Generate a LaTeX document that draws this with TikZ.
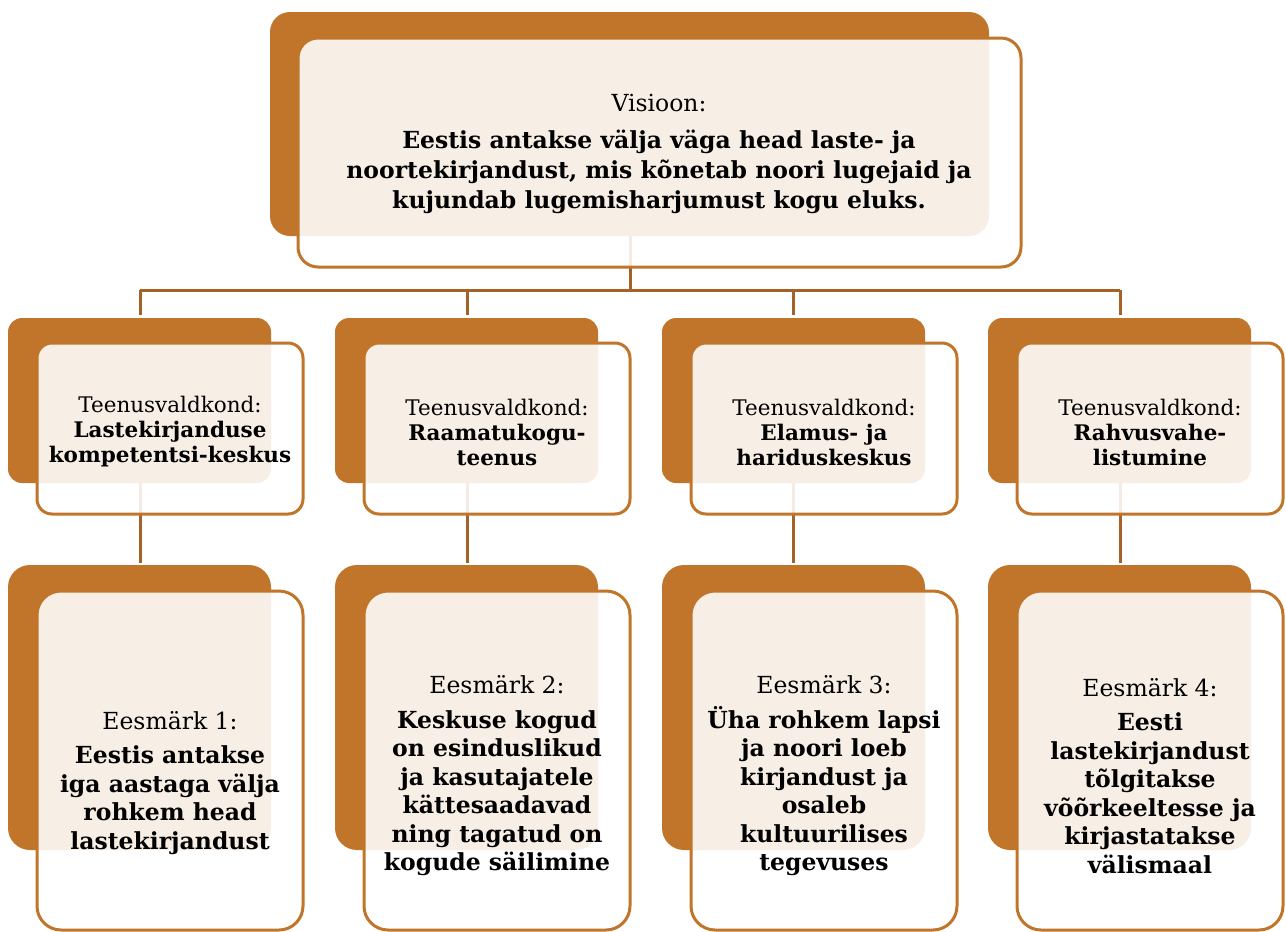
\documentclass[tikz,border=0pt]{standalone}
\usepackage{fontspec}
\setmainfont{DejaVu Serif}
\definecolor{ora}{RGB}{192,117,42}
\definecolor{con}{RGB}{165,98,38}
\begin{document}
\begin{tikzpicture}[x=1pt,y=-1pt,
  backbox/.style={fill=ora,draw=none,rounded corners=20pt,inner sep=0pt,outer sep=0pt,anchor=north west},
  frontbox/.style={fill=white,fill opacity=0.88,draw=ora,line width=3pt,rounded corners=20pt,inner sep=0pt,outer sep=0pt,anchor=north west},
  sback/.style={backbox,minimum width=263pt,minimum height=165pt,rounded corners=14pt},
  sfront/.style={frontbox,minimum width=266pt,minimum height=171pt,rounded corners=15pt},
  gback/.style={backbox,minimum width=263pt,minimum height=285pt,rounded corners=22pt},
  gfront/.style={frontbox,minimum width=266pt,minimum height=339pt,rounded corners=24pt},
  label/.style={align=center,text=black,inner sep=0pt},
  slabel/.style={label,font=\fontsize{21.5}{25}\selectfont},
  glabel/.style={label,font=\fontsize{23.5}{28.5}\selectfont},
  conn/.style={draw=con,line width=3pt}]
\useasboundingbox (0,0) rectangle (1286,932);
% connectors (behind)
\coordinate (topc) at (630,236);
\coordinate (bus0) at (630,290);
\coordinate (a1) at (140,290);
\coordinate (a2) at (467,290);
\coordinate (a3) at (793,290);
\coordinate (a4) at (1120,290);
\coordinate (s1) at (140,315);
\coordinate (s2) at (467,315);
\coordinate (s3) at (793,315);
\coordinate (s4) at (1120,315);
\coordinate (b1) at (140,483);
\coordinate (b2) at (467,483);
\coordinate (b3) at (793,483);
\coordinate (b4) at (1120,483);
\coordinate (c1) at (140,563);
\coordinate (c2) at (467,563);
\coordinate (c3) at (793,563);
\coordinate (c4) at (1120,563);
\draw[conn] (topc) -- (bus0);
\draw[conn] (a1) -- (a4);
\draw[conn] (a1) -- (s1);
\draw[conn] (a2) -- (s2);
\draw[conn] (a3) -- (s3);
\draw[conn] (a4) -- (s4);
\draw[conn] (b1) -- (c1);
\draw[conn] (b2) -- (c2);
\draw[conn] (b3) -- (c3);
\draw[conn] (b4) -- (c4);
% top box
\node[backbox,minimum width=719pt,minimum height=224pt] (vb) at (270,12) {};
\node[frontbox,minimum width=723pt,minimum height=229pt] (vf) at (298,38) {};
\node[label,font=\fontsize{23.5}{30}\selectfont] (vt) at (659,154) {Visioon:\\[7pt]
\textbf{Eestis antakse välja väga head laste- ja}\\
\textbf{noortekirjandust, mis kõnetab noori lugejaid ja}\\
\textbf{kujundab lugemisharjumust kogu eluks.}};
% tier 2
\node[sback] (sb1) at (8,318) {};
\node[sfront] (sf1) at (37,343) {};
\node[slabel] (st1) at (170,432) {Teenusvaldkond:\\\textbf{Lastekirjanduse}\\\textbf{kompetentsi-keskus}};
\node[sback] (sb2) at (335,318) {};
\node[sfront] (sf2) at (364,343) {};
\node[slabel] (st2) at (497,432) {Teenusvaldkond:\\\textbf{Raamatukogu-}\\\textbf{teenus}};
\node[sback] (sb3) at (662,318) {};
\node[sfront] (sf3) at (691,343) {};
\node[slabel] (st3) at (824,432) {Teenusvaldkond:\\\textbf{Elamus- ja}\\\textbf{hariduskeskus}};
\node[sback] (sb4) at (988,318) {};
\node[sfront] (sf4) at (1017,343) {};
\node[slabel] (st4) at (1150,432) {Teenusvaldkond:\\\textbf{Rahvusvahe-}\\\textbf{listumine}};
% tier 3
\node[gback] (gb1) at (8,565) {};
\node[gfront] (gf1) at (37,591) {};
\node[glabel] (gt1) at (170,783) {Eesmärk 1:\\[6pt]\textbf{Eestis antakse}\\\textbf{iga aastaga välja}\\\textbf{rohkem head}\\\textbf{lastekirjandust}};
\node[gback] (gb2) at (335,565) {};
\node[gfront] (gf2) at (364,591) {};
\node[glabel] (gt2) at (497,776) {Eesmärk 2:\\[6pt]\textbf{Keskuse kogud}\\\textbf{on esinduslikud}\\\textbf{ja kasutajatele}\\\textbf{kättesaadavad}\\\textbf{ning tagatud on}\\\textbf{kogude säilimine}};
\node[gback] (gb3) at (662,565) {};
\node[gfront] (gf3) at (691,591) {};
\node[glabel] (gt3) at (824,776) {Eesmärk 3:\\[6pt]\textbf{Üha rohkem lapsi}\\\textbf{ja noori loeb}\\\textbf{kirjandust ja}\\\textbf{osaleb}\\\textbf{kultuurilises}\\\textbf{tegevuses}};
\node[gback] (gb4) at (988,565) {};
\node[gfront] (gf4) at (1017,591) {};
\node[glabel] (gt4) at (1150,776) {Eesmärk 4:\\[6pt]\textbf{Eesti}\\\textbf{lastekirjandust}\\\textbf{tõlgitakse}\\\textbf{võõrkeeltesse ja}\\\textbf{kirjastatakse}\\\textbf{välismaal}};
\end{tikzpicture}
\end{document}
